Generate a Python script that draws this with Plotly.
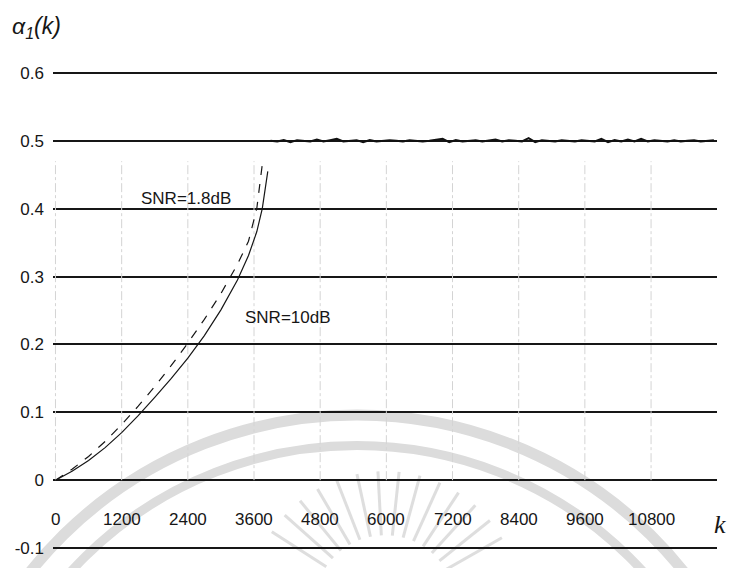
import plotly.graph_objects as go
import math

# Transient of the adaptive coefficient alpha_1(k) for two noise levels
k_rise = [0, 300, 600, 900, 1200, 1500, 1800, 2100, 2400, 2700, 3000, 3300, 3500, 3650, 3750, 3850]
alpha_10dB = [0, 0.013, 0.029, 0.048, 0.070, 0.095, 0.122, 0.150, 0.180, 0.213, 0.251, 0.295,
              0.331, 0.366, 0.400, 0.455]
k_rise_18 = [0, 300, 600, 900, 1200, 1500, 1800, 2100, 2400, 2700, 3000, 3300, 3500, 3650, 3750]
alpha_18dB = [0, 0.016, 0.035, 0.057, 0.082, 0.109, 0.138, 0.169, 0.202, 0.237, 0.275, 0.318,
              0.352, 0.400, 0.465]

# Converged (steady-state) part, sampled every 120 iterations from k = 3900
k_steady = list(range(3900, 12000, 120))
alpha_steady = [0.500, 0.499, 0.501, 0.498, 0.501, 0.500, 0.499, 0.502, 0.499, 0.501,
                0.503, 0.499, 0.500, 0.501, 0.498, 0.501, 0.499, 0.500, 0.501, 0.500,
                0.499, 0.501, 0.500, 0.499, 0.500, 0.501, 0.503, 0.498, 0.501, 0.499,
                0.500, 0.501, 0.499, 0.500, 0.502, 0.499, 0.501, 0.500, 0.499, 0.504,
                0.498, 0.501, 0.500, 0.499, 0.501, 0.500, 0.499, 0.501, 0.500, 0.499,
                0.503, 0.498, 0.501, 0.499, 0.502, 0.499, 0.503, 0.499, 0.501, 0.500,
                0.499, 0.501, 0.499, 0.500, 0.501, 0.499, 0.500, 0.501]

x_ticks = [0, 1200, 2400, 3600, 4800, 6000, 7200, 8400, 9600, 10800]
x_tick_labels = ["0", "1200", "2400", "3600", "4800", "6000", "7200", "8400", "9600", "10800"]
y_ticks = [-0.1, 0, 0.1, 0.2, 0.3, 0.4, 0.5, 0.6]
y_tick_labels = ["-0.1", "0", "0.1", "0.2", "0.3", "0.4", "0.5", "0.6"]

FONT = "Liberation Sans, Arial, sans-serif"
INK = "#161616"

fig = go.Figure()

# faint dash-dot vertical guides at the tick positions
vx, vy = [], []
for t in x_ticks:
    vx += [t, t, None]
    vy += [0, 0.47, None]
fig.add_trace(go.Scatter(x=vx, y=vy, mode="lines", hoverinfo="skip", showlegend=False,
                         line=dict(color="#d4d4d4", width=1, dash="dashdot")))

fig.add_trace(go.Scatter(x=k_rise_18, y=alpha_18dB, mode="lines", name="SNR=1.8dB",
                         line=dict(color=INK, width=1.2, dash="dash")))
fig.add_trace(go.Scatter(x=k_rise, y=alpha_10dB, mode="lines", name="SNR=10dB",
                         line=dict(color=INK, width=1.2)))
fig.add_trace(go.Scatter(x=k_steady, y=alpha_steady, mode="lines", name="steady state",
                         line=dict(color="#111111", width=2)))

# x tick labels sit between the 0 and -0.1 grid lines
for t, lab in zip(x_ticks, x_tick_labels):
    fig.add_annotation(x=t, y=-0.058, xref="x", yref="y", text=lab, showarrow=False,
                       font=dict(family=FONT, size=17, color=INK), xanchor="center", yanchor="middle")

fig.add_annotation(x=2367, y=0.4145, xref="x", yref="y", text="SNR=1.8dB", showarrow=False,
                   font=dict(family=FONT, size=17, color=INK))
fig.add_annotation(x=4217, y=0.239, xref="x", yref="y", text="SNR=10dB", showarrow=False,
                   font=dict(family=FONT, size=17, color=INK))

L, R, T, B = 53, 18, 70, 10
W, H = 735, 568
PW, PH = W - L - R, H - T - B

def px(x):
    return (x - L) / PW

def py(y):
    return (H - B - y) / PH

fig.add_annotation(x=px(728), y=-0.066, xref="paper", yref="y", text="<i>k</i>", showarrow=False,
                   font=dict(family="Liberation Serif, Times New Roman, serif", size=26, color=INK))
fig.add_annotation(x=px(10), y=py(27), xref="paper", yref="paper", xanchor="left", yanchor="middle",
                   text="<i>α<sub>1</sub>(k)</i>", showarrow=False,
                   font=dict(family=FONT, size=23, color=INK))

# faint seal printed in the background of the page
shapes = []
for cx, cy, r, w in [(357, 835, 415, 11), (357, 835, 384, 9)]:
    shapes.append(dict(type="circle", xref="paper", yref="paper", layer="below",
                       x0=px(cx - r), x1=px(cx + r), y0=py(cy + r), y1=py(cy - r),
                       line=dict(color="#dcdcdc", width=w)))
ccx, ccy = 385, 612
for ang in range(30, 151, 9):
    a = math.radians(ang)
    shapes.append(dict(type="line", xref="paper", yref="paper", layer="below",
                       x0=px(ccx + 70 * math.cos(a)), y0=py(ccy - 70 * math.sin(a)),
                       x1=px(ccx + 135 * math.cos(a)), y1=py(ccy - 135 * math.sin(a)),
                       line=dict(color="#dedede", width=3)))

fig.update_layout(
    width=W, height=H,
    margin=dict(l=L, r=R, t=T, b=B),
    paper_bgcolor="white", plot_bgcolor="rgba(0,0,0,0)",
    showlegend=False, shapes=shapes,
    xaxis=dict(range=[-45, 11996], showgrid=False, zeroline=False, showticklabels=False,
               showline=False, ticks=""),
    yaxis=dict(range=[-0.10436, 0.60436], tickvals=y_ticks, ticktext=y_tick_labels,
               showgrid=True, gridcolor=INK, gridwidth=1.5, zeroline=False, showline=False,
               ticks="", ticklabelstandoff=8,
               tickfont=dict(family=FONT, size=17, color=INK)),
)

fig.write_html("out.html")
